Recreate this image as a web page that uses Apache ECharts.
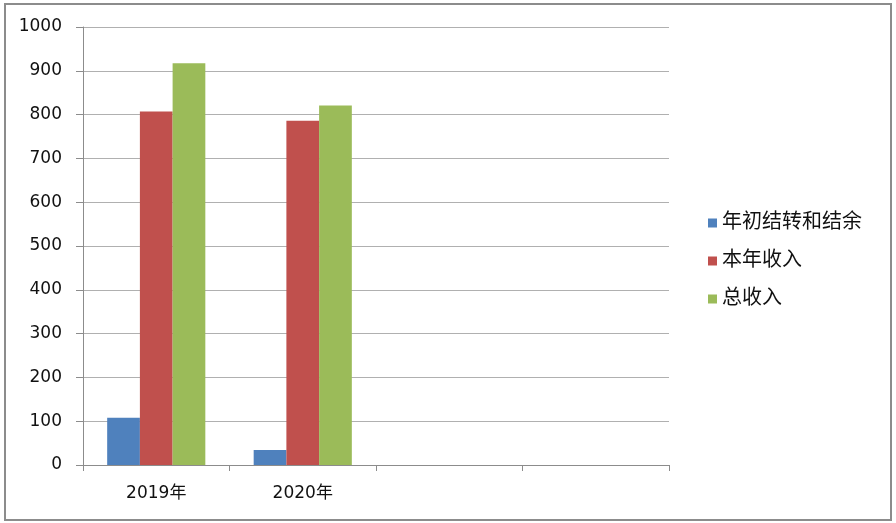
<!DOCTYPE html>
<html>
<head>
<meta charset="utf-8">
<script src="https://cdn.jsdelivr.net/npm/echarts@6/dist/echarts.min.js"></script>
<style>
html,body{margin:0;padding:0;background:#fff;}
#chart{width:896px;height:523px;}
</style>
</head>
<body>
<div id="chart"></div>
<script>
const categories = ['2019年', '2020年', '', ''];
const seriesNames = ['年初结转和结余', '本年收入', '总收入'];
const carryOver = [108, 34, null, null];
const yearIncome = [807, 786, null, null];
const totalIncome = [917, 821, null, null];
const yTicks = [0, 1000, 100];
const colors = ['#4f81bd', '#c0504d', '#9bbb59'];

const chart = echarts.init(document.getElementById('chart'), null, {renderer: 'canvas'});
const font = 'DejaVu Sans, Noto Sans CJK SC, sans-serif';
const dataSets = [carryOver, yearIncome, totalIncome];
const option = {
  animation: false,
  backgroundColor: '#fff',
  textStyle: {fontFamily: font},
  graphic: [{
    type: 'rect',
    shape: {x: 5, y: 4, width: 886, height: 516},
    style: {fill: 'none', stroke: '#8c8c8c', lineWidth: 2},
    silent: true
  }],
  grid: {left: 83, right: 227, top: 27, bottom: 58, containLabel: false},
  legend: {
    orient: 'vertical',
    left: 703,
    top: 208,
    itemWidth: 9,
    itemHeight: 9,
    itemGap: 18,
    icon: 'rect',
    textStyle: {fontSize: 20, color: '#111', fontFamily: font, padding: [0, 0, 0, 0]},
    data: seriesNames
  },
  xAxis: {
    type: 'category',
    data: categories,
    axisLine: {lineStyle: {color: '#8c8c8c', width: 1}},
    axisTick: {show: true, length: 6, interval: 0, lineStyle: {color: '#8c8c8c'}},
    axisLabel: {interval: 0, color: '#111', fontSize: 17, margin: 20},
    splitLine: {show: false}
  },
  yAxis: {
    type: 'value',
    min: yTicks[0],
    max: yTicks[1],
    interval: yTicks[2],
    axisLine: {show: true, lineStyle: {color: '#8c8c8c', width: 1}},
    axisTick: {show: true, length: 7, lineStyle: {color: '#8c8c8c'}},
    axisLabel: {color: '#111', fontSize: 17, margin: 21, formatter: v => String(v)},
    splitLine: {lineStyle: {color: '#b0b0b0', width: 1}}
  },
  series: seriesNames.map((name, i) => ({
    name: name,
    type: 'bar',
    data: dataSets[i],
    barGap: '0%',
    barCategoryGap: '33%',
    itemStyle: {color: colors[i]}
  }))
};
chart.setOption(option);
</script>
</body>
</html>
